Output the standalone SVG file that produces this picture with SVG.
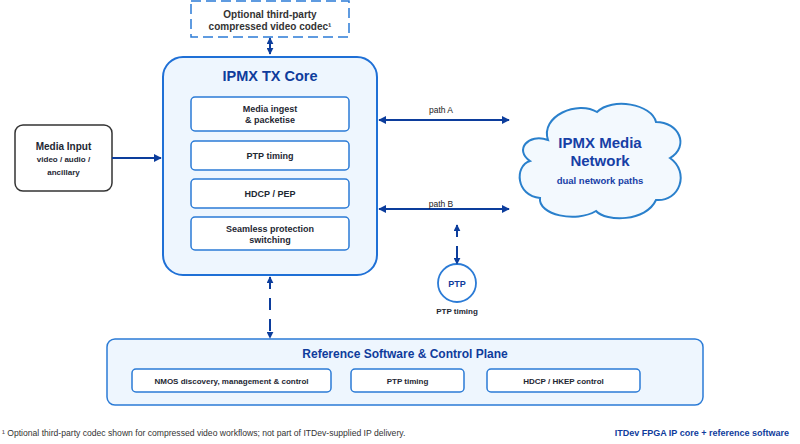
<svg xmlns="http://www.w3.org/2000/svg" width="800" height="444" viewBox="0 0 800 444">
<defs>
<style>
text{font-family:"Liberation Sans",Arial,sans-serif;}
.b{font-weight:bold;}
.ttl{fill:#0f3c9c;font-weight:bold;text-anchor:middle;}
.lbl{fill:#1e2733;font-weight:bold;text-anchor:middle;}
.sub{fill:#ffffff;stroke:#2b7bd6;stroke-width:1.5;}
.panel{fill:#eef6fe;stroke:#1f70d6;stroke-width:2;}
.conn{stroke:#0c3d9c;stroke-width:2;fill:none;}
.dash{stroke-dasharray:12 9;}
</style>
<marker id="ah" viewBox="0 0 10 10" refX="9" refY="5" markerWidth="8" markerHeight="8" markerUnits="userSpaceOnUse" orient="auto-start-reverse">
<path d="M0,0 L10,5 L0,10 Z" fill="#0c3d9c"/>
</marker>
<marker id="ahs" viewBox="0 0 10 10" refX="9" refY="5" markerWidth="7" markerHeight="7" markerUnits="userSpaceOnUse" orient="auto-start-reverse">
<path d="M0,0 L10,5 L0,10 Z" fill="#0c3d9c"/>
</marker>
</defs>
<rect width="800" height="444" fill="#ffffff"/>

<g id="codec">
<rect x="191" y="1" width="158" height="36" fill="#ffffff" stroke="#2b7bd6" stroke-width="1.5" stroke-dasharray="10 5"/>
<text x="270" y="17.5" font-size="10" class="lbl" style="fill:#333">Optional third-party</text>
<text x="270" y="29.5" font-size="10" class="lbl" style="fill:#333">compressed video codec¹</text>
</g>

<g id="core">
<rect x="163" y="57" width="214" height="218" rx="20" class="panel"/>
<text x="270" y="81" font-size="14.5" class="ttl">IPMX TX Core</text>
<rect x="191" y="97" width="158" height="34" rx="4" class="sub"/>
<text x="270" y="112" font-size="9" class="lbl">Media ingest</text>
<text x="270" y="123" font-size="9" class="lbl">&amp; packetise</text>
<rect x="191" y="141" width="158" height="29" rx="4" class="sub"/>
<text x="270" y="158.5" font-size="9" class="lbl">PTP timing</text>
<rect x="191" y="179" width="158" height="29" rx="4" class="sub"/>
<text x="270" y="196.5" font-size="9" class="lbl">HDCP / PEP</text>
<rect x="191" y="217" width="158" height="33" rx="4" class="sub"/>
<text x="270" y="231.5" font-size="9" class="lbl">Seamless protection</text>
<text x="270" y="242.5" font-size="9" class="lbl">switching</text>
</g>

<g id="media-input">
<rect x="15" y="125" width="97" height="66" rx="8" fill="#ffffff" stroke="#333333" stroke-width="1.5"/>
<text x="63.5" y="150" font-size="10" class="lbl">Media Input</text>
<text x="63.5" y="162" font-size="8" class="lbl">video / audio /</text>
<text x="63.5" y="175" font-size="8" class="lbl">ancillary</text>
</g>

<g id="network">
<path d="M548,140 C540,116 578,100 597,112 C612,97 652,104 656,122 C679,122 690,146 670,158 C690,172 680,202 656,200 C646,222 606,222 596,211 C576,223 538,215 540,198 C516,196 514,166 530,161 C514,150 528,133 548,140 Z" fill="#f3f9fe" stroke="#2a80cc" stroke-width="2"/>
<text x="600" y="148" font-size="15" class="ttl" style="fill:#1740a6">IPMX Media</text>
<text x="600" y="166" font-size="15" class="ttl" style="fill:#1740a6">Network</text>
<text x="600" y="184" font-size="9.5" class="ttl" style="fill:#1740a6">dual network paths</text>
</g>

<g id="ptp">
<circle cx="457" cy="283" r="19" fill="#ffffff" stroke="#2b7bd6" stroke-width="1.8"/>
<text x="457" y="286.5" font-size="9" class="ttl">PTP</text>
<text x="457" y="314" font-size="8" class="lbl">PTP timing</text>
</g>

<g id="ref-software">
<rect x="107" y="339" width="596" height="66" rx="8" fill="#eef6fe" stroke="#2b7bd6" stroke-width="1.5"/>
<text x="405" y="358" font-size="12" class="ttl">Reference Software &amp; Control Plane</text>
<rect x="132" y="369" width="199" height="23" rx="4" class="sub"/>
<text x="231.5" y="383.5" font-size="8" class="lbl">NMOS discovery, management &amp; control</text>
<rect x="351" y="369" width="113" height="23" rx="4" class="sub"/>
<text x="407.5" y="383.5" font-size="8" class="lbl">PTP timing</text>
<rect x="487" y="369" width="153" height="23" rx="4" class="sub"/>
<text x="563.5" y="383.5" font-size="8" class="lbl">HDCP / HKEP control</text>
</g>

<g id="connectors">
<line x1="270" y1="38" x2="270" y2="54" class="conn" marker-start="url(#ahs)" marker-end="url(#ahs)"/>
<line x1="112" y1="158" x2="161" y2="158" class="conn" marker-end="url(#ah)"/>
<line x1="379" y1="120" x2="509" y2="120" class="conn" marker-start="url(#ah)" marker-end="url(#ah)"/>
<text x="441" y="113" font-size="8.5" fill="#222" text-anchor="middle">path A</text>
<line x1="379" y1="209" x2="509" y2="209" class="conn" marker-start="url(#ah)" marker-end="url(#ah)"/>
<text x="441" y="207" font-size="8.5" fill="#222" text-anchor="middle">path B</text>
<line x1="457" y1="225" x2="457" y2="264" class="conn dash" marker-start="url(#ahs)" marker-end="url(#ahs)"/>
<line x1="270" y1="277" x2="270" y2="338" class="conn dash" marker-start="url(#ahs)" marker-end="url(#ahs)"/>
</g>

<text x="2" y="436" font-size="8.6" fill="#333">¹ Optional third-party codec shown for compressed video workflows; not part of ITDev-supplied IP delivery.</text>
<text x="789" y="436" font-size="9" class="b" fill="#0f3c9c" text-anchor="end">ITDev FPGA IP core + reference software</text>
</svg>
